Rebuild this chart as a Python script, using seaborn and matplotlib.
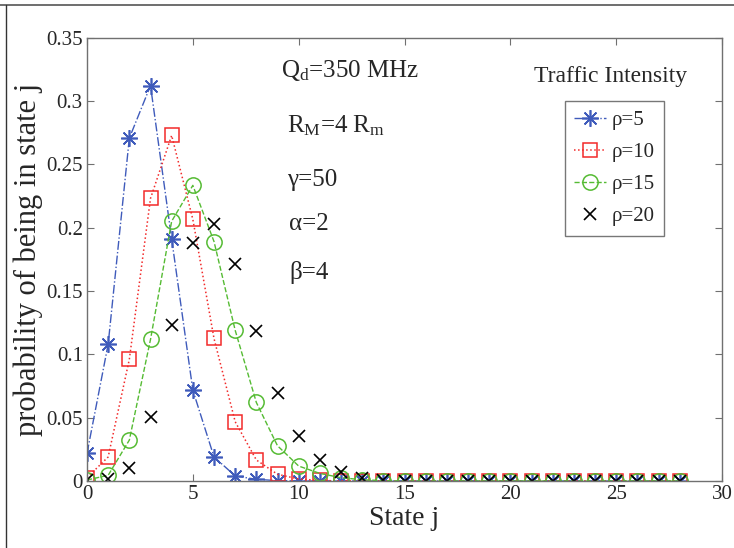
import matplotlib
matplotlib.use("Agg")
import matplotlib.pyplot as plt
from matplotlib.lines import Line2D
import seaborn as sns

# State index j
states = list(range(0, 29))

# Steady-state probabilities for each traffic intensity
p_rho5 = [0.0218, 0.108, 0.2706, 0.312, 0.191, 0.0717, 0.019, 0.004, 0.0013,
          0.0003, 0.0001] + [0.0] * 18
p_rho10 = [0.0026, 0.019, 0.096, 0.223, 0.2727, 0.2065, 0.1125, 0.0468, 0.0166,
           0.0053, 0.0016, 0.0004, 0.0001] + [0.0] * 16
p_rho15 = [0.0008, 0.0045, 0.0323, 0.1117, 0.205, 0.2333, 0.189, 0.119, 0.062,
           0.0278, 0.0118, 0.006, 0.0026, 0.001, 0.0003] + [0.0] * 14
p_rho20 = [0.0008, 0.0013, 0.010, 0.0507, 0.123, 0.188, 0.203, 0.171, 0.1185,
           0.0696, 0.0355, 0.0166, 0.0069, 0.0026, 0.0009, 0.0003] + [0.0] * 13

series_labels = ["ρ=5", "ρ=10", "ρ=15", "ρ=20"]
x_ticks = [0, 5, 10, 15, 20, 25, 30]
y_ticks = [0, 0.05, 0.1, 0.15, 0.2, 0.25, 0.3, 0.35]
y_tick_labels = ["0", "0.05", "0.1", "0.15", "0.2", "0.25", "0.3", "0.35"]

sns.set_style("white")
plt.rcParams["font.family"] = ["Liberation Serif", "DejaVu Serif"]
plt.rcParams["mathtext.fontset"] = "custom"
plt.rcParams["mathtext.rm"] = "Liberation Serif"
plt.rcParams["mathtext.it"] = "Liberation Serif:italic"

fig = plt.figure(figsize=(7.34, 5.48), dpi=100)
ax = fig.add_axes([87 / 734, 1 - 481 / 548, (722 - 87) / 734, (481 - 37.5) / 548])

blue = "#3f5bbb"
red = "#f22a2a"
green = "#55bb33"
asterisk = (8, 2, 0)

sns.lineplot(x=states, y=p_rho5, ax=ax, color=blue, linestyle="-.", linewidth=1.0,
             marker=asterisk, markersize=12, markeredgewidth=1.2, markerfacecolor=blue,
             markeredgecolor=blue, label=series_labels[0])
sns.lineplot(x=states, y=p_rho10, ax=ax, color=red, linestyle=":", linewidth=1.1,
             marker="s", markersize=10, markeredgewidth=1.1, markerfacecolor="none",
             markeredgecolor=red, label=series_labels[1])
sns.lineplot(x=states, y=p_rho15, ax=ax, color=green, linestyle="--", linewidth=1.0,
             marker="o", markersize=11, markeredgewidth=1.1, markerfacecolor="none",
             markeredgecolor=green, label=series_labels[2])
sns.lineplot(x=states, y=p_rho20, ax=ax, color="black", linestyle="none",
             marker="x", markersize=8.5, markeredgewidth=1.2, markeredgecolor="black",
             markerfacecolor="black", label=series_labels[3])

ax.set_xlim(0, 30)
ax.set_ylim(0, 0.35)
ax.set_xticks(x_ticks)
ax.set_yticks(y_ticks)
ax.set_yticklabels(y_tick_labels)
ax.tick_params(axis="both", direction="in", length=5, width=0.8, color="#707070",
               labelsize=15, top=True, right=True, bottom=True, left=True, pad=3)
for sp in ax.spines.values():
    sp.set_color("#707070")
    sp.set_linewidth(1.0)

ax.set_xlabel("State j", fontsize=20, labelpad=1)
ax.set_ylabel("probability of being in state j", fontsize=22, labelpad=2)

# Parameter annotations
ax.text(0.305, 0.91, r"Q$_\mathrm{d}$=350 MHz", transform=ax.transAxes, fontsize=18)
ax.text(0.315, 0.785, r"R$_\mathrm{M}$=4 R$_\mathrm{m}$", transform=ax.transAxes, fontsize=18)
ax.text(0.315, 0.665, "γ=50", transform=ax.transAxes, fontsize=18)
ax.text(0.318, 0.565, "α=2", transform=ax.transAxes, fontsize=18)
ax.text(0.318, 0.455, "β=4", transform=ax.transAxes, fontsize=18)

# Legend with its heading above the frame
ax.text(0.824, 0.9, "Traffic Intensity", transform=ax.transAxes, fontsize=17,
        ha="center")
leg = ax.legend(loc="upper left", bbox_to_anchor=(565 / 734, 1 - 101 / 548),
                bbox_transform=fig.transFigure, fontsize=15, frameon=True,
                fancybox=False, handlelength=1.5, handletextpad=0.3,
                borderpad=0.45, labelspacing=0.6, borderaxespad=0)
leg.get_frame().set_edgecolor("#555555")
leg.get_frame().set_linewidth(1.0)

# Outer frame lines along the top and left of the figure
fig.add_artist(Line2D([0, 1], [1 - 5 / 548, 1 - 5 / 548], transform=fig.transFigure,
                      color="#555555", linewidth=1.2))
fig.add_artist(Line2D([6 / 734, 6 / 734], [0, 1 - 5 / 548], transform=fig.transFigure,
                      color="#333333", linewidth=1.0))

fig.savefig("out.png", dpi=100)
